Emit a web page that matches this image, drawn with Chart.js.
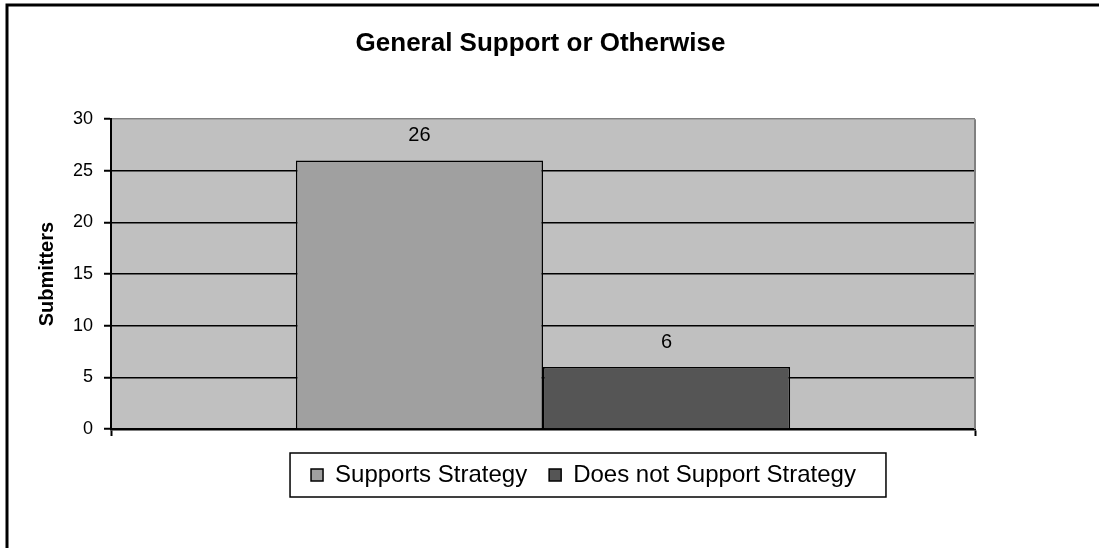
<!DOCTYPE html>
<html>
<head>
<meta charset="utf-8">
<script src="https://cdn.jsdelivr.net/npm/chart.js@4.4.1/dist/chart.umd.min.js"></script>
<style>
	html, body { margin: 0; padding: 0; background: #fff; }
	#chart { display: block; }
</style>
</head>
<body>
<canvas id="chart" width="1099" height="548"></canvas>
<script>
const categories = [""];
const seriesNames = ["Supports Strategy", "Does not Support Strategy"];
const supportsStrategy = [26];
const doesNotSupport = [6];
const seriesColors = ["#a0a0a0", "#555555"];
const yTicks = [0, 5, 10, 15, 20, 25, 30];

const FONT = "'Liberation Sans', Arial, sans-serif";

// page frame, grey plot background and its grey top/right edge
const plotFrame = {
	id: "plotFrame",
	beforeDraw(chart) {
		const { ctx, chartArea: a } = chart;
		ctx.save();
		ctx.fillStyle = "#fff";
		ctx.fillRect(0, 0, chart.width, chart.height);
		ctx.fillStyle = "#c0c0c0";
		ctx.fillRect(a.left, a.top, a.right - a.left, a.bottom - a.top);
		ctx.strokeStyle = "#000";
		ctx.lineWidth = 3;
		ctx.beginPath();
		ctx.moveTo(7, chart.height);
		ctx.lineTo(7, 5);
		ctx.lineTo(chart.width, 5);
		ctx.stroke();
		ctx.restore();
	},
	beforeDatasetsDraw(chart) {
		const { ctx, chartArea: a } = chart;
		ctx.save();
		ctx.strokeStyle = "#808080";
		ctx.lineWidth = 2;
		ctx.beginPath();
		ctx.moveTo(a.right, a.bottom);
		ctx.lineTo(a.right, a.top);
		ctx.stroke();
		ctx.restore();
	},
};

// value printed above each bar
const valueLabels = {
	id: "valueLabels",
	afterDatasetsDraw(chart) {
		const { ctx } = chart;
		ctx.save();
		ctx.font = "20px " + FONT;
		ctx.fillStyle = "#000";
		ctx.textAlign = "center";
		ctx.textBaseline = "middle";
		chart.data.datasets.forEach((ds, i) => {
			chart.getDatasetMeta(i).data.forEach((bar, j) => {
				ctx.fillText(`${ds.data[j]}`, bar.x, bar.y - 25);
			});
		});
		ctx.restore();
	},
};

// title over the plot's middle, legend right of centre inside a thin box
const blockShift = {
	id: "blockShift",
	afterLayout(chart) {
		chart.titleBlock.left += 43;
		chart.titleBlock.right += 43;
		chart.legend.left += 86;
		chart.legend.right += 86;
	},
	afterDraw(chart) {
		const boxes = chart.legend.legendHitBoxes;
		if (!boxes || !boxes.length) return;
		const first = boxes[0];
		const last = boxes[boxes.length - 1];
		const { ctx } = chart;
		const x0 = first.left - 21;
		const x1 = last.left + last.width + 30;
		const y0 = first.top - 10;
		const y1 = first.top + first.height + 10;
		ctx.save();
		ctx.strokeStyle = "#000";
		ctx.lineWidth = 1.5;
		ctx.strokeRect(x0, y0, x1 - x0, y1 - y0);
		ctx.restore();
	},
};

new Chart(document.getElementById("chart"), {
	type: "bar",
	plugins: [plotFrame, valueLabels, blockShift],
	data: {
		labels: categories,
		datasets: [
			{
				label: seriesNames[0],
				data: supportsStrategy,
				backgroundColor: seriesColors[0],
				borderColor: "#000",
				borderWidth: 1.5,
			},
			{
				label: seriesNames[1],
				data: doesNotSupport,
				backgroundColor: seriesColors[1],
				borderColor: "#000",
				borderWidth: 1.5,
			},
		],
	},
	options: {
		responsive: false,
		animation: false,
		layout: { padding: { top: 8, left: 20, right: 124, bottom: 51 } },
		datasets: {
			bar: { categoryPercentage: 0.572, barPercentage: 1 },
		},
		plugins: {
			tooltip: { enabled: false },
			title: {
				display: true,
				text: "General Support or Otherwise",
				color: "#000",
				font: { family: FONT, size: 26, weight: "bold" },
				padding: { top: 20, bottom: 60 },
			},
			legend: {
				position: "bottom",
				labels: {
					color: "#000",
					font: { family: FONT, size: 24 },
					boxWidth: 12,
					boxHeight: 12,
					padding: 22,
				},
			},
		},
		scales: {
			x: {
				type: "category",
				offset: true,
				ticks: { display: false },
				grid: {
					offset: true,
					drawOnChartArea: false,
					drawTicks: true,
					tickLength: 7,
					tickColor: "#000",
					tickWidth: 2,
				},
				border: { color: "#000", width: 2.5 },
				afterFit(scale) {
					scale.height = 12;
				},
			},
			y: {
				min: yTicks[0],
				max: yTicks[yTicks.length - 1],
				afterBuildTicks(scale) {
					scale.ticks = yTicks.map(v => ({ value: v }));
				},
				ticks: {
					color: "#000",
					font: { family: FONT, size: 18 },
					padding: 11,
				},
				grid: {
					color: c => (c.tick && c.tick.value === 30 ? "#808080" : "#000"),
					lineWidth: 1.5,
					tickLength: 7,
					tickColor: "#000",
					tickWidth: 2,
				},
				border: { color: "#000", width: 2 },
				title: {
					display: true,
					text: "Submitters",
					color: "#000",
					font: { family: FONT, size: 20, weight: "bold" },
					padding: { top: 15, bottom: 0 },
				},
				afterFit(scale) {
					scale.width = 91;
				},
			},
		},
	},
});
</script>
</body>
</html>
